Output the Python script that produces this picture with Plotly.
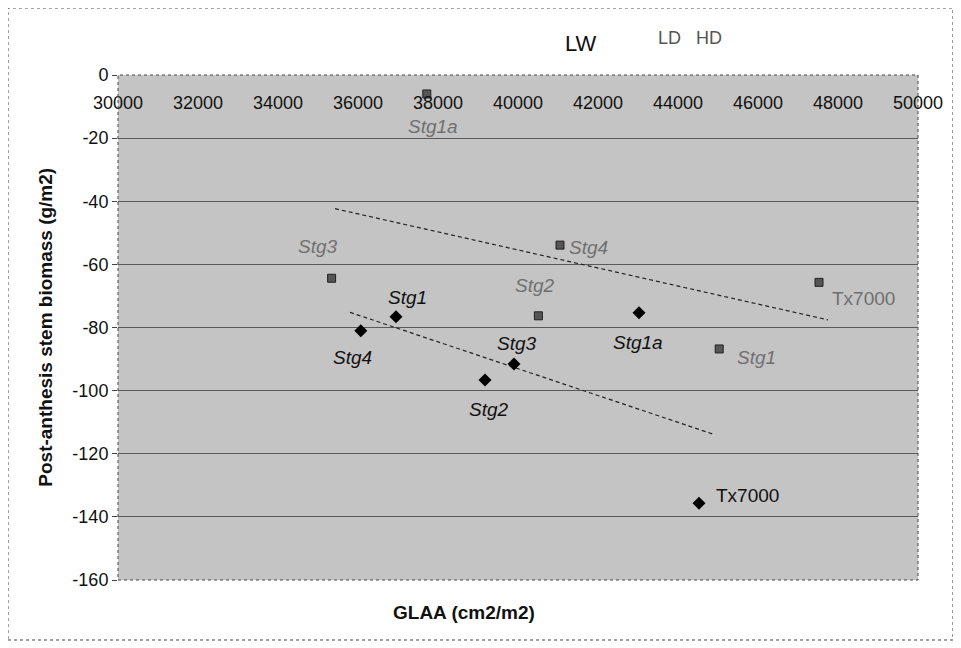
import numpy as np
import plotly.graph_objects as go

# ---- data ----
lw_names = ["Stg1", "Stg4", "Stg2", "Stg3", "Stg1a", "Tx7000"]
lw_x = [36950, 36070, 39175, 39900, 43025, 44525]
lw_y = [-76.6, -81.0, -96.6, -91.6, -75.3, -135.7]

ld_names = ["Stg1a", "Stg3", "Stg4", "Stg2", "Stg1", "Tx7000"]
ld_x = [37720, 35340, 41050, 40510, 45030, 47525]
ld_y = [-6.0, -64.4, -53.9, -76.3, -86.8, -65.7]

lw_trend_x = [35800, 44925]
ld_trend_x = [35425, 47750]

x_ticks = [30000, 32000, 34000, 36000, 38000, 40000, 42000, 44000, 46000, 48000, 50000]
y_ticks = [0, -20, -40, -60, -80, -100, -120, -140, -160]

# label offsets (pixels) for each point
lw_off = [(11, -19), (-8, 27), (4, 30), (3, -21), (-1, 30), (48, -8)]
ld_off = [(6, 33), (-14, -32), (28, 2), (-3, -30), (37, 9), (44, 16)]
lw_italic = [True, True, True, True, True, False]
ld_italic = [True, True, True, True, True, False]

FONT = "Liberation Sans, Arial, sans-serif"

fig = go.Figure()

# trend lines (least-squares fit of each series)
for xs, ys, tx in [(lw_x, lw_y, lw_trend_x), (ld_x, ld_y, ld_trend_x)]:
    k, b = np.polyfit(xs, ys, 1)
    txa = np.array(tx, dtype=float)
    fig.add_trace(go.Scatter(x=txa, y=k * txa + b, mode="lines",
                             line=dict(color="#222222", width=1.2, dash="4px,3px"),
                             showlegend=False, hoverinfo="skip"))

fig.add_trace(go.Scatter(x=ld_x, y=ld_y, mode="markers", name="LD",
                         marker=dict(symbol="square", size=8, color="#555555",
                                     line=dict(color="#222222", width=1)),
                         showlegend=False))
fig.add_trace(go.Scatter(x=lw_x, y=lw_y, mode="markers", name="LW",
                         marker=dict(symbol="diamond", size=10, color="#000000"),
                         showlegend=False))

ann = []
for n, x, y, (ox, oy), it in zip(lw_names, lw_x, lw_y, lw_off, lw_italic):
    t = f"<i>{n}</i>" if it else n
    ann.append(dict(x=x, y=y, ax=ox, ay=oy, axref="pixel", ayref="pixel", showarrow=True,
                    arrowcolor="rgba(0,0,0,0)", text=t,
                    font=dict(family=FONT, size=19, color="#111111")))
for n, x, y, (ox, oy), it in zip(ld_names, ld_x, ld_y, ld_off, ld_italic):
    t = f"<i>{n}</i>" if it else n
    ann.append(dict(x=x, y=y, ax=ox, ay=oy, axref="pixel", ayref="pixel", showarrow=True,
                    arrowcolor="rgba(0,0,0,0)", text=t,
                    font=dict(family=FONT, size=19, color="#707070")))

# legend-like labels at top
ann.append(dict(x=0.579, y=1.0624, xref="paper", yref="paper", text="LW", showarrow=False,
                xanchor="center", yanchor="middle",
                font=dict(family=FONT, size=22, color="#111111")))
ann.append(dict(x=0.689, y=1.0727, xref="paper", yref="paper", text="LD", showarrow=False,
                xanchor="center", yanchor="middle",
                font=dict(family=FONT, size=18, color="#555555")))
ann.append(dict(x=0.739, y=1.0727, xref="paper", yref="paper", text="HD", showarrow=False,
                xanchor="center", yanchor="middle",
                font=dict(family=FONT, size=18, color="#555555")))

# axis titles
ann.append(dict(x=0.4325, y=-0.0634, xref="paper", yref="paper", showarrow=False,
                xanchor="center", yanchor="middle",
                text="<b>GLAA (cm2/m2)</b>", font=dict(family=FONT, size=19, color="#111111")))
ann.append(dict(x=-0.091, y=0.5, xref="paper", yref="paper", showarrow=False,
                xanchor="center", yanchor="middle", textangle=-90,
                text="<b>Post-anthesis stem biomass (g/m2)</b>",
                font=dict(family=FONT, size=19, color="#111111")))

fig.update_layout(
    width=953, height=640,
    margin=dict(l=110, r=43, t=67, b=68),
    paper_bgcolor="white",
    plot_bgcolor="#c4c4c4",
    font=dict(family=FONT, size=17, color="#111111"),
    annotations=ann,
    shapes=[
        dict(type="rect", xref="paper", yref="paper",
             x0=-0.1375, x1=1.0437, y0=-0.1188, y1=1.1327,
             line=dict(color="#444444", width=1, dash="dot")),
        dict(type="rect", xref="paper", yref="paper", x0=0, x1=1, y0=0, y1=1,
             line=dict(color="#444444", width=1, dash="dot")),
    ],
    xaxis=dict(range=[30000, 50000], anchor="free", position=1, side="bottom",
               tickvals=x_ticks, ticktext=[str(v) for v in x_ticks],
               ticks="outside", ticklen=11, tickcolor="rgba(0,0,0,0)",
               showgrid=False, zeroline=False, showline=False,
               tickfont=dict(family=FONT, size=18, color="#111111"),
               title=None),
    yaxis=dict(range=[-160, 0], tickvals=y_ticks, ticktext=[str(v) for v in y_ticks],
               ticks="outside", ticklen=5, tickcolor="#444444",
               showgrid=True, gridcolor="#5a5a5a", gridwidth=1, zeroline=False,
               showline=False,
               tickfont=dict(family=FONT, size=18, color="#111111"),
               title=None),
)

fig.write_html("out.html")
